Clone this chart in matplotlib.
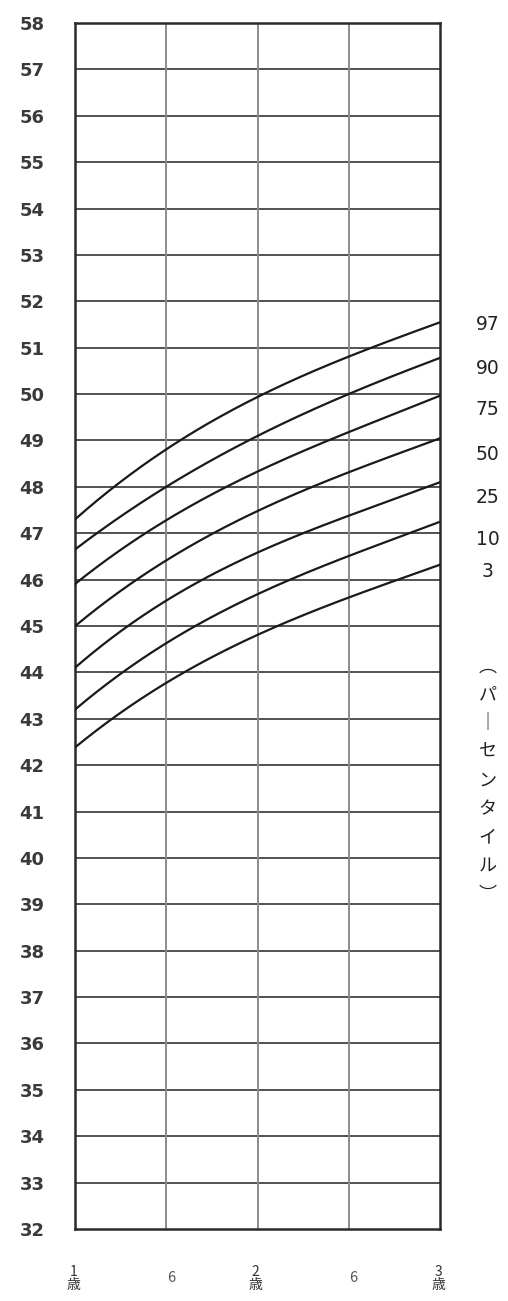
import matplotlib
matplotlib.use('Agg')
import matplotlib.pyplot as plt
import numpy as np

plt.rcParams['font.family'] = ['Noto Sans CJK JP', 'DejaVu Sans']

# 年齢（歳）と各パーセンタイルの値
age = [1.0, 1.5, 2.0, 2.5, 3.0]
p97 = [47.3, 48.8, 49.95, 50.8, 51.55]
p90 = [46.65, 48.0, 49.1, 50.0, 50.78]
p75 = [45.9, 47.3, 48.3, 49.2, 49.96]
p50 = [45.0, 46.4, 47.5, 48.3, 49.05]
p25 = [44.1, 45.55, 46.58, 47.38, 48.1]
p10 = [43.2, 44.62, 45.7, 46.5, 47.25]
p3 = [42.38, 43.78, 44.8, 45.62, 46.32]
curves = [p97, p90, p75, p50, p25, p10, p3]
names = ['97', '90', '75', '50', '25', '10', '3']
label_y = [51.49, 50.56, 49.66, 48.69, 47.78, 46.86, 46.17]
x_labels = ['1\n歳', '6', '2\n歳', '6', '3\n歳']

fig = plt.figure(figsize=(5.08, 13.01), dpi=100)
ax = fig.add_axes([75/508, 1 - 1229/1301, 365/508, 1206/1301])

ax.set_xlim(1, 3)
ax.set_ylim(32, 58)

# 格子
for v in range(33, 58):
    ax.axhline(v, color='#444444', lw=1.3, zorder=1)
for a in age[1:-1]:
    ax.axvline(a, color='#8c8c8c', lw=1.4, zorder=1)

# 曲線（なめらかに）
xs = np.linspace(1, 3, 200)
for c in curves:
    coef = np.polyfit(age, c, 3)
    ax.plot(xs, np.polyval(coef, xs), color='#1a1a1a', lw=1.6, zorder=3)

for s in ax.spines.values():
    s.set_color('#2a2a2a')
    s.set_linewidth(1.8)

ax.set_yticks(range(32, 59))
ax.set_yticklabels([str(v) for v in range(32, 59)], family='DejaVu Sans',
                   fontsize=13, fontweight='bold', color='#3a3a3a')
ax.tick_params(axis='y', length=0, pad=22)
ax.set_xticks([])

for i, a in enumerate(age):
    if '\n' in x_labels[i]:
        ax.text(a - 0.01, -0.041, x_labels[i], transform=ax.get_xaxis_transform(),
                ha='center', va='center', fontsize=10, color='#333333', linespacing=0.95)
    else:
        ax.text(a + 0.025, -0.041, x_labels[i], transform=ax.get_xaxis_transform(),
                ha='center', va='center', fontsize=10.5, color='#555555')

# パーセンタイル名
for n, yv in zip(names, label_y):
    ax.text(1.13, (yv - 32) / 26, n, transform=ax.transAxes, ha='center', va='center',
            family='DejaVu Sans', fontsize=13.5, color='#222222')

ax.text(1.13, 0.372, '︵\nパ\n｜\nセ\nン\nタ\nイ\nル\n︶', transform=ax.transAxes,
        ha='center', va='center', fontsize=13, color='#222222', linespacing=1.75)

fig.savefig('out.png', dpi=100)
